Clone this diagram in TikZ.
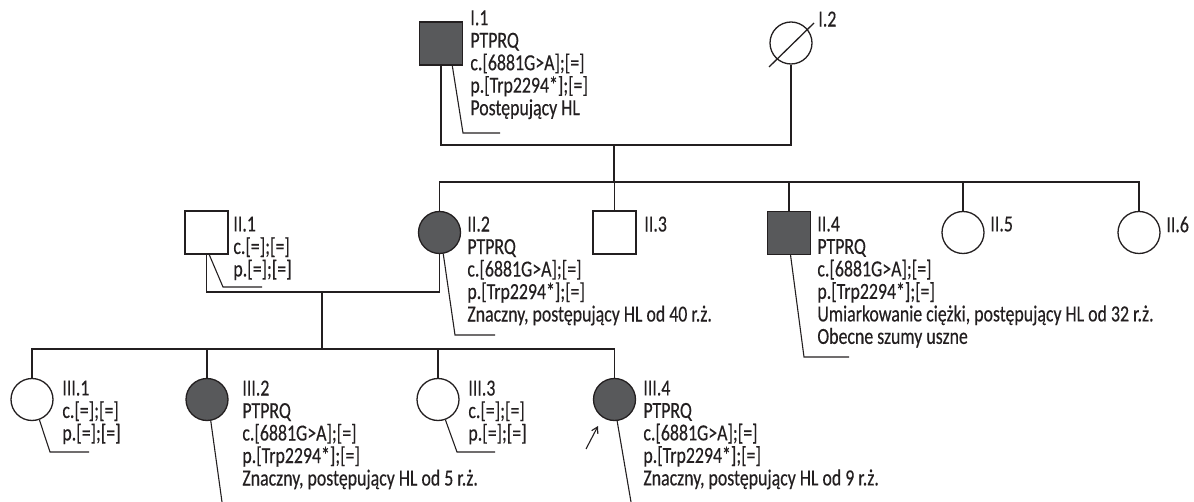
\documentclass[tikz,border=0pt]{standalone}
\usepackage{fontspec}
\setmainfont{Carlito}[FakeStretch=0.775, FakeBold=0.35]
\usetikzlibrary{arrows.meta,calc}
\definecolor{ink}{HTML}{231F20}
\definecolor{affected}{HTML}{58595B}
\tikzset{
  male/.style={rectangle, draw=ink, line width=0.65pt, minimum size=21.5pt, inner sep=0pt},
  female/.style={circle, draw=ink, line width=0.65pt, minimum size=21pt, inner sep=0pt},
  aff/.style={fill=affected},
  info/.style={anchor=north west, inner sep=0pt, align=left, text=ink,
    font=\fontsize{11.5}{11.25}\selectfont},
  link/.style={draw=ink, line width=0.65pt},
  pointer/.style={draw=ink, line width=0.55pt},
}
\begin{document}
\begin{tikzpicture}[x=0.5pt, y=-0.5pt]
\useasboundingbox (0,0) rectangle (1194,502);

% ---- generation I ----
\node[male, aff] (I1) at (441,43.5) {};
\node[female] (I2) at (791,43) {};
\draw[link] ($(I2.center)+(-22,24)$) -- ($(I2.center)+(23,-20)$);

\node[info] (tI1) at (470,10) {I.1\\PTPRQ\\c.[6881G>A];[=]\\p.[Trp2294*];[=]\\Postępujący HL};
\node[info] (tI2) at (818,11.2) {I.2};

% ---- generation II ----
\node[male] (II1) at (206.5,232.5) {};
\node[female, aff] (II2) at (439.5,232.5) {};
\node[male] (II3) at (614.5,232.5) {};
\node[male, aff] (II4) at (789,233) {};
\node[female] (II5) at (963,232.5) {};
\node[female] (II6) at (1139,232.5) {};

\node[info] (tII1) at (233,216.2) {II.1\\c.[=];[=]\\p.[=];[=]};
\node[info] (tII2) at (467,216.2) {II.2\\PTPRQ\\c.[6881G>A];[=]\\p.[Trp2294*];[=]\\Znaczny, postępujący HL od 40 r.ż.};
\node[info] (tII3) at (644,216.2) {II.3};
\node[info] (tII4) at (817,216.2) {II.4\\PTPRQ\\c.[6881G>A];[=]\\p.[Trp2294*];[=]\\Umiarkowanie ciężki, postępujący HL od 32 r.ż.\\Obecne szumy uszne};
\node[info] (tII5) at (990,216.2) {II.5};
\node[info] (tII6) at (1166,216.2) {II.6};

% ---- generation III ----
\node[female] (III1) at (32,399.5) {};
\node[female, aff] (III2) at (207,399.5) {};
\node[female] (III3) at (438,399.5) {};
\node[female, aff] (III4) at (614.5,399.5) {};

\node[info] (tIII1) at (62,380.2) {III.1\\c.[=];[=]\\p.[=];[=]};
\node[info] (tIII2) at (242,380.2) {III.2\\PTPRQ\\c.[6881G>A];[=]\\p.[Trp2294*];[=]\\Znaczny, postępujący HL od 5 r.ż.};
\node[info] (tIII3) at (468,380.2) {III.3\\c.[=];[=]\\p.[=];[=]};
\node[info] (tIII4) at (643,380.2) {III.4\\PTPRQ\\c.[6881G>A];[=]\\p.[Trp2294*];[=]\\Znaczny, postępujący HL od 9 r.ż.};

% ---- marriage, descent and sibship lines ----
\coordinate (mI) at (614,145);
\coordinate (sII) at (614,182);
\coordinate (mII) at (322,292);
\coordinate (sIII) at (322,349);

\draw[link] (I1.south) |- (mI) -| (I2.south);
\draw[link] (mI) -- (sII);
\draw[link] (II2.north) |- (sII) -| (II6.north);
\draw[link] (II3.north) -- (II3.north |- sII);
\draw[link] (II4.north) -- (II4.north |- sII);
\draw[link] (II5.north) -- (II5.north |- sII);

\draw[link] (II1.south) |- (mII) -| (II2.south);
\draw[link] (mII) -- (sIII);
\draw[link] (III1.north) |- (sIII) -| (III4.north);
\draw[link] (III2.north) -- (III2.north |- sIII);
\draw[link] (III3.north) -- (III3.north |- sIII);

% ---- pointer lines to the annotations ----
\coordinate (bI1) at (463,133);   \coordinate (eI1) at (500,133);
\coordinate (bII1) at (223,287);  \coordinate (eII1) at (262,287);
\coordinate (bII2) at (455,335);  \coordinate (eII2) at (495,335);
\coordinate (bII4) at (804,357);  \coordinate (eII4) at (849,357);
\coordinate (bIII1) at (50,452);  \coordinate (eIII1) at (89,452);
\coordinate (bIII3) at (457,452); \coordinate (eIII3) at (495,452);
\coordinate (eIII2) at (222,502);
\coordinate (eIII4) at (631,502);

\draw[pointer] (I1.-63) -- (bI1) -- (eI1);
\draw[pointer] (II1.-83) -- (bII1) -- (eII1);
\draw[pointer] (II2.-80) -- (bII2) -- (eII2);
\draw[pointer] (II4.-86) -- (bII4) -- (eII4);
\draw[pointer] (III1.-70) -- (bIII1) -- (eIII1);
\draw[pointer] (III3.-70) -- (bIII3) -- (eIII3);
\draw[pointer] (III2.-80) -- (eIII2);
\draw[pointer] (III4.-83) -- (eIII4);

% ---- proband arrow ----
\coordinate (pa) at (586,449);
\coordinate (pb) at (598,426);
\draw[pointer, -{Straight Barb[length=3pt,width=3.5pt]}] (pa) -- (pb);
\end{tikzpicture}
\end{document}
